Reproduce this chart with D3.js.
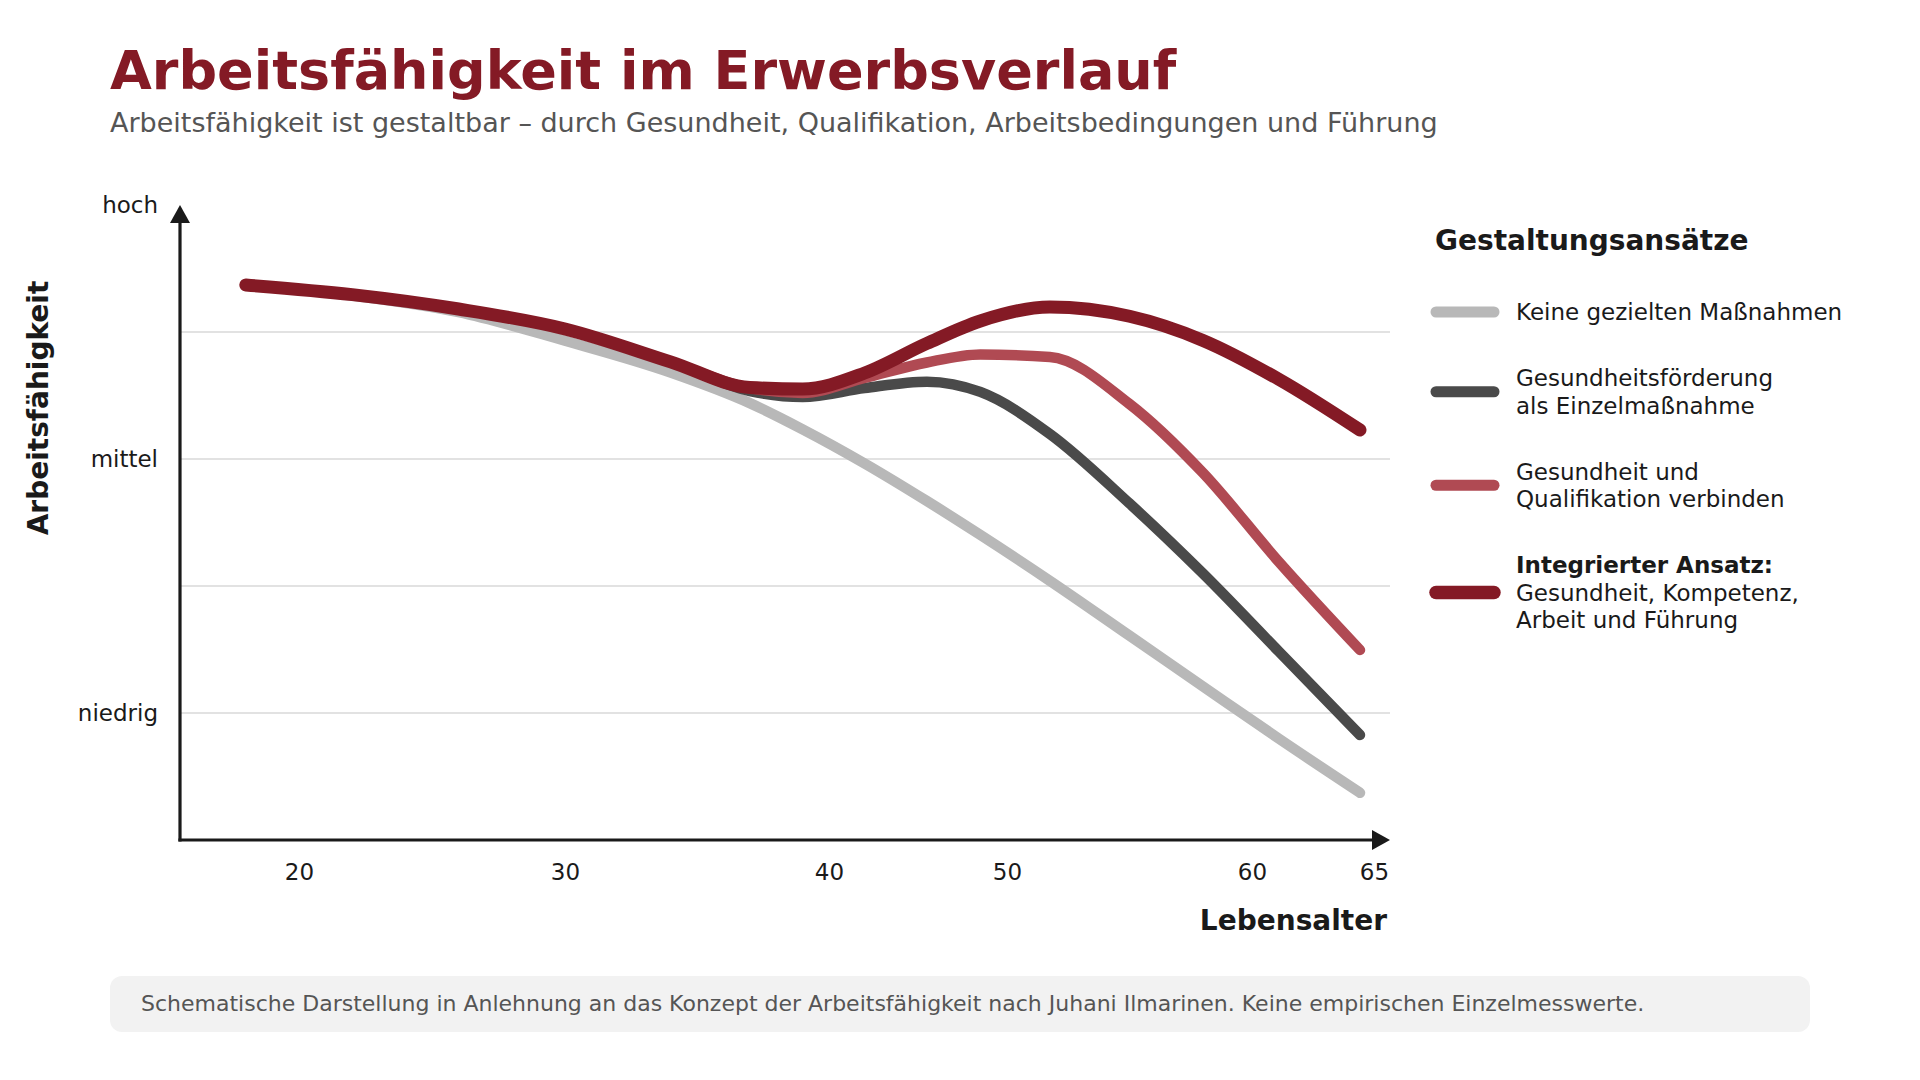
<!DOCTYPE html>
<html>
<head>
<meta charset="utf-8">
<script src="https://cdn.jsdelivr.net/npm/d3@7"></script>
<style>
  html, body { margin: 0; padding: 0; background: #ffffff; }
  svg { display: block; font-family: "DejaVu Sans", sans-serif; }
</style>
</head>
<body>
<svg id="chart" width="1920" height="1080"></svg>
<script>
// ---------- data ----------
const ages = [18, 22, 26, 30, 34, 37, 39, 42, 45.5, 48.5, 51.75, 55, 58, 61, 64];

const keineMassnahmen         = [4.370, 4.287, 4.157, 3.931, 3.681, 3.440, 3.234, 2.965, 2.669, 2.402, 2.041, 1.609, 1.209, 0.797, 0.372];
const gesundheitsfoerderung   = [4.370, 4.294, 4.181, 4.024, 3.765, 3.535, 3.488, 3.559, 3.609, 3.528, 3.197, 2.650, 2.098, 1.483, 0.827];
const gesundheitQualifikation = [4.370, 4.294, 4.181, 4.024, 3.765, 3.559, 3.520, 3.638, 3.760, 3.823, 3.803, 3.433, 2.890, 2.189, 1.496];
const integrierterAnsatz      = [4.370, 4.294, 4.181, 4.024, 3.765, 3.563, 3.551, 3.677, 3.910, 4.087, 4.197, 4.124, 3.934, 3.627, 3.228];

const xTickValues = [20, 30, 40, 50, 60, 65];
const yTickValues = [1, 3, 5];
const yTickLabels = ["niedrig", "mittel", "hoch"];
const gridValues  = [1, 2, 3, 4];

const legendLines = [
  [{t: "Keine gezielten Maßnahmen", b: false}],
  [{t: "Gesundheitsförderung", b: false}, {t: "als Einzelmaßnahme", b: false}],
  [{t: "Gesundheit und", b: false}, {t: "Qualifikation verbinden", b: false}],
  [{t: "Integrierter Ansatz:", b: true}, {t: "Gesundheit, Kompetenz,", b: false}, {t: "Arbeit und Führung", b: false}]
];
const seriesColors = ["#b8b8b8", "#4a4a4a", "#b04a53", "#841a25"];
const seriesWidths = [10.5, 10.5, 10.5, 13];

const titleText = "Arbeitsfähigkeit im Erwerbsverlauf";
const subtitleText = "Arbeitsfähigkeit ist gestaltbar – durch Gesundheit, Qualifikation, Arbeitsbedingungen und Führung";
const footerText = "Schematische Darstellung in Anlehnung an das Konzept der Arbeitsfähigkeit nach Juhani Ilmarinen. Keine empirischen Einzelmesswerte.";

// ---------- layout ----------
const svg = d3.select("#chart");
const axisLeftX = 180, axisRightX = 1390, axisBottomY = 840;

const x = d3.scaleLinear()
  .domain([20, 30, 40, 50, 60, 64, 65])
  .range([299, 565, 829, 1007, 1252, 1360, 1374]);
const y = d3.scaleLinear().domain([0, 5]).range([axisBottomY, 205]);

// title
svg.append("text").attr("x", 110).attr("y", 89)
  .attr("font-size", 54).attr("font-weight", "bold").attr("fill", "#841a25")
  .text(titleText);
svg.append("text").attr("x", 110).attr("y", 132)
  .attr("font-size", 27).attr("fill", "#555555")
  .text(subtitleText);

// gridlines
svg.append("g").selectAll("line").data(gridValues).join("line")
  .attr("x1", axisLeftX).attr("x2", axisRightX)
  .attr("y1", d => y(d)).attr("y2", d => y(d))
  .attr("stroke", "#d9d9d9").attr("stroke-width", 1.6);

// y labels
svg.append("g").selectAll("text").data(yTickValues).join("text")
  .attr("x", 158).attr("y", d => y(d))
  .attr("text-anchor", "end").attr("dominant-baseline", "central")
  .attr("font-size", 23).attr("fill", "#1a1a1a")
  .text((d, i) => yTickLabels[i]);

// x labels via axis
const xAxis = d3.axisBottom(x).tickValues(xTickValues).tickSize(0).tickPadding(24).tickFormat(d3.format("d"));
const gx = svg.append("g").attr("transform", `translate(0,${axisBottomY})`).call(xAxis);
gx.select(".domain").remove();
gx.selectAll("text").attr("font-size", 23).attr("fill", "#1a1a1a").attr("font-family", "DejaVu Sans");

// axis titles
svg.append("text").attr("x", 1387).attr("y", 930)
  .attr("text-anchor", "end").attr("font-size", 28).attr("font-weight", "bold").attr("fill", "#1a1a1a")
  .text("Lebensalter");
svg.append("text").attr("transform", "translate(48,408) rotate(-90)")
  .attr("text-anchor", "middle").attr("font-size", 28).attr("font-weight", "bold").attr("fill", "#1a1a1a")
  .text("Arbeitsfähigkeit");

// lines
const allSeries = [keineMassnahmen, gesundheitsfoerderung, gesundheitQualifikation, integrierterAnsatz];
const line = d3.line().x(d => x(d[0])).y(d => y(d[1])).curve(d3.curveMonotoneX);
svg.append("g").selectAll("path").data(allSeries).join("path")
  .attr("d", s => line(ages.map((a, i) => [a, s[i]])))
  .attr("fill", "none")
  .attr("stroke", (s, i) => seriesColors[i])
  .attr("stroke-width", (s, i) => seriesWidths[i])
  .attr("stroke-linecap", "round").attr("stroke-linejoin", "round");

// axes with arrows
svg.append("line").attr("x1", axisLeftX).attr("x2", axisLeftX)
  .attr("y1", axisBottomY + 1.5).attr("y2", 220)
  .attr("stroke", "#1a1a1a").attr("stroke-width", 3.2);
svg.append("path").attr("d", `M${axisLeftX},205 L${axisLeftX - 10},223 L${axisLeftX + 10},223 Z`).attr("fill", "#1a1a1a");
svg.append("line").attr("x1", axisLeftX - 1.6).attr("x2", 1375)
  .attr("y1", axisBottomY).attr("y2", axisBottomY)
  .attr("stroke", "#1a1a1a").attr("stroke-width", 3.2);
svg.append("path").attr("d", `M${axisRightX},${axisBottomY} L${axisRightX - 18},${axisBottomY - 10} L${axisRightX - 18},${axisBottomY + 10} Z`).attr("fill", "#1a1a1a");

// legend
const lg = svg.append("g");
lg.append("text").attr("x", 1435).attr("y", 250)
  .attr("font-size", 28).attr("font-weight", "bold").attr("fill", "#1a1a1a")
  .text("Gestaltungsansätze");
const lineH = 27.5, gap = 38.5;
let cy = 312 - lineH / 2;
legendLines.forEach((lines, i) => {
  const h = lines.length * lineH;
  const center = cy + h / 2;
  const g = lg.append("g");
  g.append("line").attr("x1", 1436).attr("x2", 1494).attr("y1", center).attr("y2", center)
    .attr("stroke", seriesColors[i]).attr("stroke-width", seriesWidths[i] + 0.5).attr("stroke-linecap", "round");
  lines.forEach((ln, j) => {
    g.append("text").attr("x", 1516)
      .attr("y", center - h / 2 + lineH * (j + 0.5))
      .attr("dominant-baseline", "central")
      .attr("font-size", 23).attr("font-weight", ln.b ? "bold" : "normal").attr("fill", "#1a1a1a")
      .text(ln.t);
  });
  cy += h + gap;
});

// footer
svg.append("rect").attr("x", 110).attr("y", 976).attr("width", 1700).attr("height", 56)
  .attr("rx", 12).attr("fill", "#f2f2f2");
svg.append("text").attr("x", 141).attr("y", 1011)
  .attr("font-size", 22).attr("fill", "#555555")
  .text(footerText);
</script>
</body>
</html>
